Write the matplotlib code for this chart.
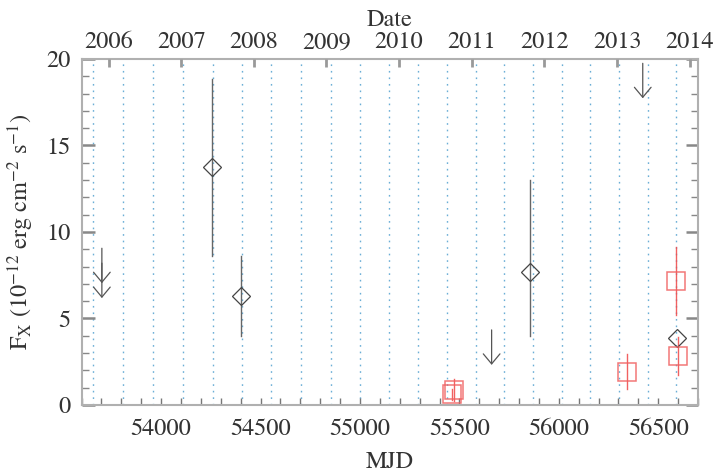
import matplotlib
matplotlib.use("Agg")
import matplotlib.pyplot as plt
from matplotlib.ticker import MultipleLocator, FixedLocator, NullLocator

plt.rcParams['font.family'] = ['STIXGeneral', 'Liberation Serif', 'DejaVu Serif']
plt.rcParams['mathtext.fontset'] = 'stix'

# ---- data ----
# black diamonds (detections)
det_mjd = [54255, 54401, 55854, 56596]
det_flux = [13.74, 6.30, 7.70, 3.85]
det_err_lo = [5.1, 2.3, 3.7, 0.0]
det_err_hi = [5.1, 2.3, 5.3, 0.0]

# red squares
sq_mjd = [55463, 55471, 56343, 56600, 56591]
sq_flux = [0.62, 0.87, 1.93, 2.83, 7.15]
sq_err = [0.33, 0.65, 1.02, 1.09, 1.97]

# upper limits (arrow start value)
ul_mjd = [53702, 53702, 55662, 56422]
ul_flux = [9.06, 8.20, 4.34, 19.75]

# dotted reference lines (MJD)
ref_mjd = [53659, 53810, 53961, 54112, 54263, 54409, 54555, 54703, 54852,
           54998, 55144, 55290, 55436, 55582, 55726, 55871, 56015, 56159,
           56304, 56448, 56590]

# top axis: 1 January of each year (MJD)
year_mjd = [53736, 54101, 54466, 54831, 55197, 55562, 55927, 56293, 56658]
year_labels = ['2006', '2007', '2008', '2009', '2010', '2011', '2012', '2013', '2014']

xticks_major = [54000, 54500, 55000, 55500, 56000, 56500]

# ---- figure ----
fig = plt.figure(figsize=(7.22, 4.75), dpi=100)
ax = fig.add_axes([0.113, 0.1474, 0.8538, 0.7284])
ax.set_xlim(53600, 56700)
ax.set_ylim(0, 20)

txt = '#333333'
spine_c = '#b0b0b0'

for m in ref_mjd:
    ax.axvline(m, color='#6baed6', lw=1.0, ls=(0, (1.2, 3.5)), zorder=1)

# detections
for x, y, lo, hi in zip(det_mjd, det_flux, det_err_lo, det_err_hi):
    if lo > 0 or hi > 0:
        ax.plot([x, x], [y - lo, y + hi], color='#666666', lw=1.0, zorder=3)
ax.plot(det_mjd, det_flux, ls='none', marker='D', ms=9.0, mfc='none',
        mec='#444444', mew=0.9, zorder=4)

# red squares
for x, y, e in zip(sq_mjd, sq_flux, sq_err):
    ax.plot([x, x], [y - e, y + e], color='#f05050', lw=1.0, alpha=0.9, zorder=3)
ax.plot(sq_mjd, sq_flux, ls='none', marker='s', ms=13.0, mfc='none',
        mec='#f06060', mew=1.1, alpha=0.85, zorder=4)

# upper limits
for x, y in zip(ul_mjd, ul_flux):
    ax.annotate('', xy=(x, y - 2.02), xytext=(x, y),
                arrowprops=dict(arrowstyle='->,head_length=0.72,head_width=0.6',
                                color='#555555', lw=0.9, shrinkA=0, shrinkB=0),
                zorder=5)

# axes style
for s in ax.spines.values():
    s.set_color(spine_c)
    s.set_linewidth(1.5)

ax.xaxis.set_major_locator(FixedLocator(xticks_major))
ax.xaxis.set_minor_locator(MultipleLocator(100))
ax.yaxis.set_major_locator(MultipleLocator(5))
ax.yaxis.set_minor_locator(MultipleLocator(1))
ax.tick_params(axis='x', which='both', direction='in', top=False, bottom=True,
               colors='#777777', labelcolor=txt, labelsize=17.5, pad=10)
ax.tick_params(axis='x', which='major', length=5, width=1.0)
ax.tick_params(axis='x', which='minor', length=5, width=1.0)
ax.tick_params(axis='y', which='both', direction='in', left=True, right=True,
               colors='#888888', labelcolor=txt, labelsize=17.5, pad=8)
ax.tick_params(axis='y', which='major', length=9, width=1.8)
ax.tick_params(axis='y', which='minor', length=5, width=1.0)

ax.set_xlabel('MJD', fontsize=17.5, color=txt, labelpad=8)
ax.set_ylabel(r'F$_\mathrm{X}$ (10$^{\mathrm{-12}}$ erg cm$^{\mathrm{-2}}$ s$^{\mathrm{-1}}$)',
              fontsize=17.5, color=txt, labelpad=7)

# top year axis
top = ax.twiny()
top.set_xlim(ax.get_xlim())
top.xaxis.set_major_locator(FixedLocator(year_mjd))
top.set_xticklabels(year_labels)
top.xaxis.set_minor_locator(NullLocator())
top.tick_params(axis='x', which='major', direction='in', length=6, width=2.0,
                colors='#999999', labelcolor=txt, labelsize=17.5, pad=4)
top.set_xlabel('Date', fontsize=17.5, color=txt, labelpad=4)
for s in top.spines.values():
    s.set_visible(False)

fig.savefig('out.png', dpi=100)
